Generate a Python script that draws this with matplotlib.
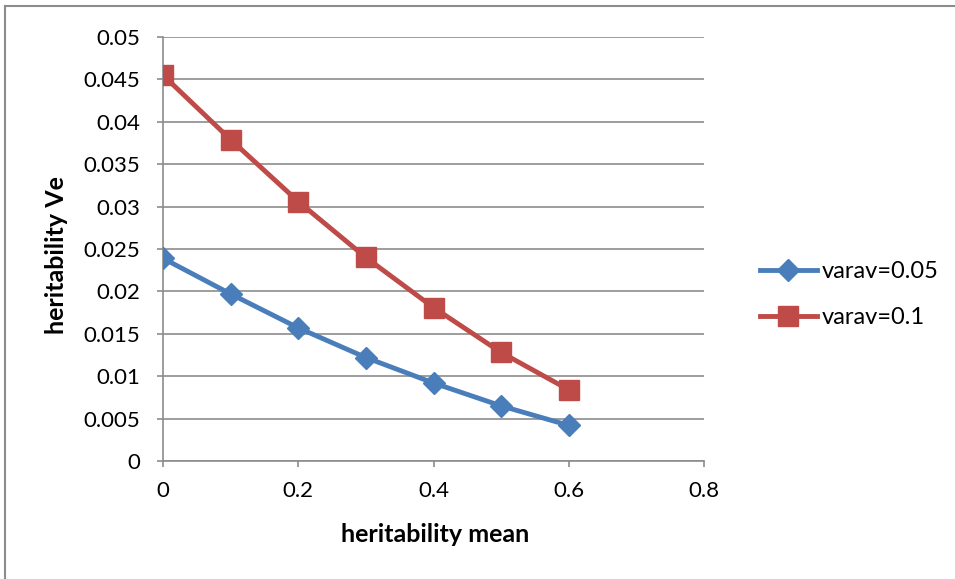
import matplotlib
matplotlib.use("Agg")
import matplotlib.pyplot as plt
from matplotlib.lines import Line2D

x_vals = [0, 0.1, 0.2, 0.3, 0.4, 0.5, 0.6]
varav_005 = [0.0239, 0.0197, 0.0157, 0.0122, 0.0092, 0.0065, 0.0042]
varav_01 = [0.0455, 0.0379, 0.0306, 0.0240, 0.0181, 0.0128, 0.0084]
series_labels = ["varav=0.05", "varav=0.1"]
x_ticks = [0, 0.2, 0.4, 0.6, 0.8]
y_ticks = [0, 0.005, 0.01, 0.015, 0.02, 0.025, 0.03, 0.035, 0.04, 0.045, 0.05]
y_tick_labels = ["0", "0.005", "0.01", "0.015", "0.02", "0.025", "0.03", "0.035", "0.04", "0.045", "0.05"]
x_tick_labels = ["0", "0.2", "0.4", "0.6", "0.8"]

plt.rcParams['font.family'] = ['Lato', 'DejaVu Sans']

W, H = 955, 579
fig = plt.figure(figsize=(W / 100, H / 100), dpi=100)
border = '#8c8c8c'
fig.add_artist(Line2D([5 / W, 1.0], [1 - 6 / H, 1 - 6 / H], transform=fig.transFigure,
                      color=border, linewidth=1.5))
fig.add_artist(Line2D([5 / W, 5 / W], [0.0, 1 - 6 / H], transform=fig.transFigure,
                      color=border, linewidth=1.5))

ax = fig.add_axes([163 / W, 1 - 461 / H, (704 - 163) / W, (461 - 37) / H])

blue = '#4a7ebb'
red = '#be4b48'
ax.plot(x_vals, varav_005, color=blue, linewidth=3.5, marker='D', markersize=11,
        label=series_labels[0], zorder=3)
ax.plot(x_vals, varav_01, color=red, linewidth=3.5, marker='s', markersize=14,
        label=series_labels[1], zorder=3)

ax.set_xlim(0, 0.8)
ax.set_ylim(0, 0.05)
ax.set_xticks(x_ticks)
ax.set_xticklabels(x_tick_labels)
ax.set_yticks(y_ticks)
ax.set_yticklabels(y_tick_labels)
ax.grid(axis='y', color='#8c8c8c', linewidth=1.2)
ax.set_axisbelow(True)
for s in ['top', 'right']:
    ax.spines[s].set_visible(False)
for s in ['left', 'bottom']:
    ax.spines[s].set_color('#8c8c8c')
    ax.spines[s].set_linewidth(1.2)
ax.tick_params(axis='both', colors='#8c8c8c', labelcolor='black', labelsize=16,
               length=4.5, width=1.2)
ax.tick_params(axis='y', pad=12)
ax.tick_params(axis='x', pad=10)

ax.set_xlabel("heritability mean", fontsize=18, fontweight='bold')
ax.set_ylabel("heritability Ve", fontsize=18, fontweight='bold')
ax.xaxis.label.set_va('center')
ax.yaxis.label.set_va('center')
ax.xaxis.set_label_coords((435 - 163) / 541, (461 - 535) / 424)
ax.yaxis.set_label_coords((56 - 163) / 541, (461 - 255) / 424)

fig.legend(loc='center left', bbox_to_anchor=(760 / W, 1 - 294.5 / H), frameon=False,
           fontsize=17, handlelength=2.4, labelspacing=1.05, handletextpad=0.2,
           borderpad=0, borderaxespad=0)

fig.savefig("out.png", dpi=100)
